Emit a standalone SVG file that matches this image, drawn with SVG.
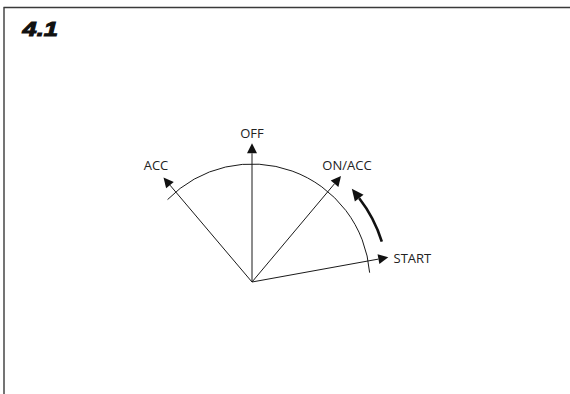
<svg xmlns="http://www.w3.org/2000/svg" width="570" height="394" viewBox="0 0 570 394">
<style>
.lbl{font-family:"Open Sans","Liberation Sans",sans-serif;font-size:13px;fill:#222}
.ln{stroke:#1a1a1a;stroke-width:1;fill:none}
</style>
<defs>
<marker id="ah" markerUnits="userSpaceOnUse" markerWidth="12" markerHeight="12" refX="0" refY="5" orient="auto" overflow="visible">
<path d="M0,0 L10,5 L0,10 Z" fill="#111"/>
</marker>
<marker id="ahb" markerUnits="userSpaceOnUse" markerWidth="14" markerHeight="12" refX="0" refY="5.5" orient="auto" overflow="visible">
<path d="M0,0 L12,5.5 L0,11 Z" fill="#111"/>
</marker>
</defs>
<rect width="570" height="394" fill="#fff"/>
<g id="frame">
<path d="M3.5,7.5 H570 M4,7 V394" stroke="#3a3a3a" stroke-width="1.4" fill="none"/>
<text x="22.5" y="36.3" font-family="Liberation Sans, Arial, sans-serif" font-weight="bold" font-style="italic" font-size="20" textLength="35.5" lengthAdjust="spacingAndGlyphs" fill="#111" stroke="#111" stroke-width="1">4.1</text>
</g>
<g id="dial">
<path class="ln" d="M167.55,199.59 A118,118 0 0 1 369.63,272.66"/>
</g>
<g id="connectors">
<line class="ln" x1="252" y1="282" x2="252" y2="153.3" marker-end="url(#ah)"/>
<line class="ln" x1="252" y1="282" x2="169.96" y2="185.13" marker-end="url(#ah)"/>
<line class="ln" x1="252" y1="282" x2="334.57" y2="183.66" marker-end="url(#ah)"/>
<line class="ln" x1="252" y1="282" x2="378.46" y2="259.08" marker-end="url(#ah)"/>
<path d="M381.8,241.6 A136,136 0 0 0 359.2,198.2" stroke="#111" stroke-width="2.6" fill="none" marker-end="url(#ahb)"/>
</g>
<g id="off"><text class="lbl" x="252" y="137.5" text-anchor="middle">OFF</text></g>
<g id="acc"><text class="lbl" x="156" y="169.8" text-anchor="middle">ACC</text></g>
<g id="onacc"><text class="lbl" x="347" y="170.3" text-anchor="middle">ON/ACC</text></g>
<g id="start"><text class="lbl" x="393.5" y="262.8">START</text></g>
</svg>
